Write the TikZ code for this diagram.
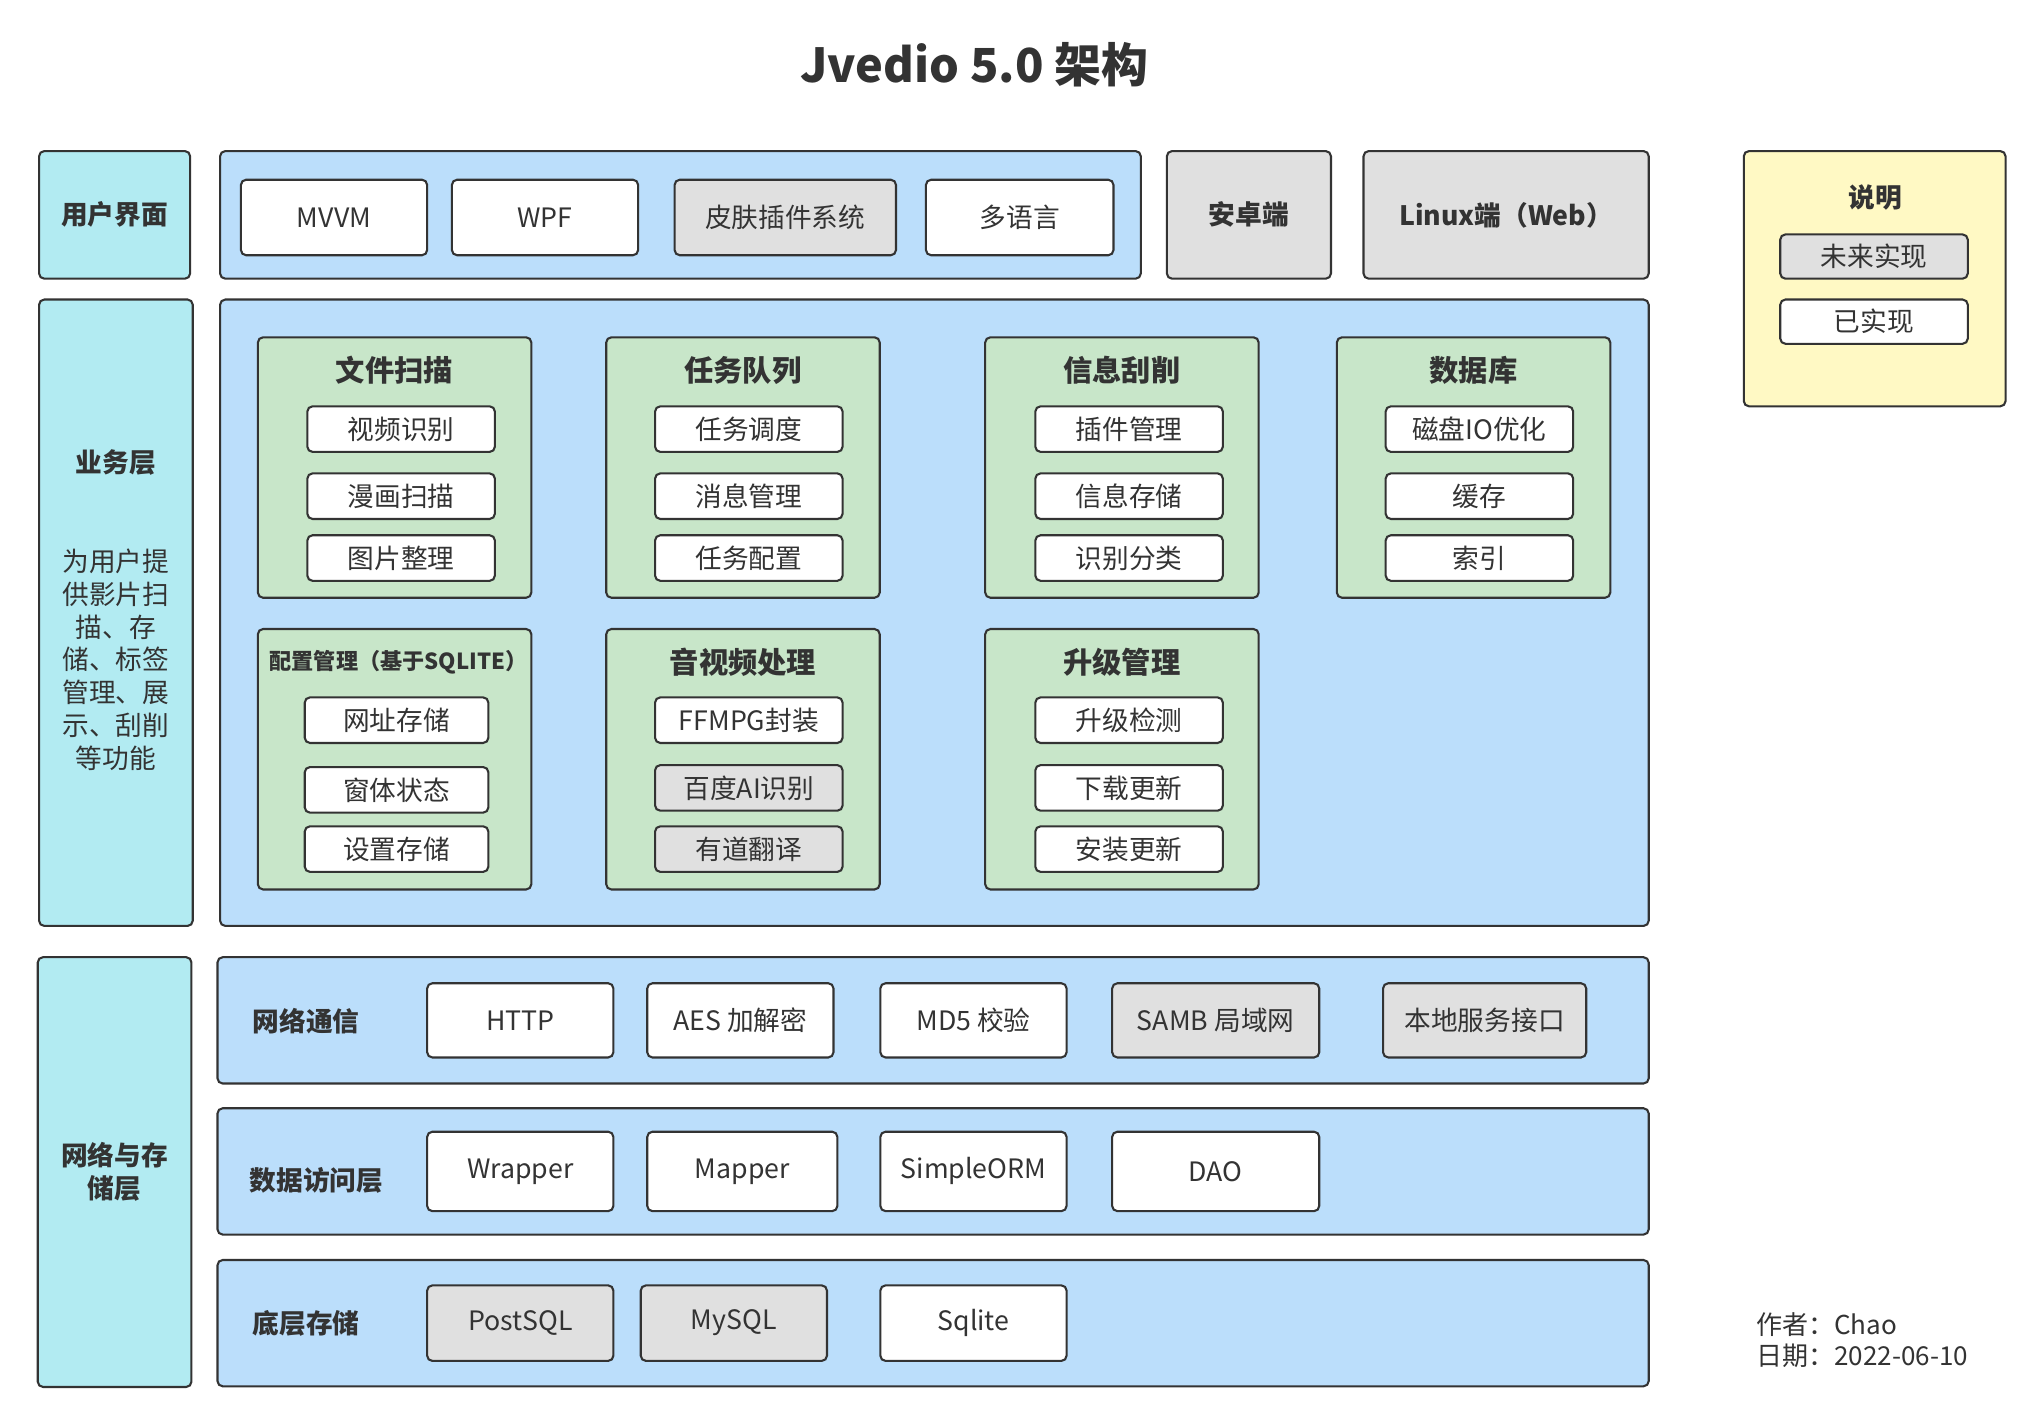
\documentclass[tikz,border=0pt]{standalone}
\usepackage{fontspec}
\setmainfont{Noto Sans CJK SC}
\usepackage{xcolor}
\usetikzlibrary{positioning}

\definecolor{linecol}{HTML}{333333}
\definecolor{cyanbg}{HTML}{B2EBF2}
\definecolor{bluebg}{HTML}{BBDEFB}
\definecolor{greenbg}{HTML}{C8E6C9}
\definecolor{graybg}{HTML}{E0E0E0}
\definecolor{notebg}{HTML}{FFF9C4}

\tikzset{
  base/.style={draw=linecol, line width=1.6pt, rounded corners=4pt, inner sep=0pt, text=linecol, align=center},
  side/.style={base, fill=cyanbg, font=\bfseries\fontsize{20.5}{25}\selectfont},
  panel/.style={base, fill=bluebg},
  group/.style={base, fill=greenbg},
  item/.style={base, fill=white, font=\fontsize{20.5}{25}\selectfont},
  todo/.style={item, fill=graybg},
  client/.style={base, fill=graybg, font=\bfseries\fontsize{20.5}{25}\selectfont},
  heading/.style={text=linecol, font=\bfseries\fontsize{22.5}{26}\selectfont},
  tag/.style={text=linecol, font=\bfseries\fontsize{20.5}{25}\selectfont}
}

\begin{document}
\begin{tikzpicture}[x=1pt, y=-1pt]
\useasboundingbox (0,0) rectangle (1568,1094.2);

% Title
\node[text=linecol, font=\bfseries\fontsize{36}{40}\selectfont] (title) at (748,50) {Jvedio 5.0 架构};

% User interface row
\node[side, minimum width=116, minimum height=98] (ui) at (88,165) {用户界面};
\node[panel, minimum width=707, minimum height=98] (uipanel) at (522.5,165) {};
\foreach \x/\w/\st/\t [count=\i] in {256.5/143/item/MVVM, 418.5/143/item/WPF, 603/170/todo/皮肤插件系统, 783/144/item/多语言} {
    \node[\st, minimum width=\w, minimum height=58] (ui-\i) at (\x,167) {\t};
}
\node[client, minimum width=126, minimum height=98] (android) at (959,165) {安卓端};
\node[client, minimum width=219, minimum height=98] (linux) at (1156.5,165) {Linux端（Web）};

% Legend
\node[base, fill=notebg, minimum width=201, minimum height=196] (legend) at (1439.5,214) {};
\node[tag] (legend-title) at (1440,152) {说明};
\node[todo, minimum width=144, minimum height=34] (future) at (1439,197) {未来实现};
\node[item, minimum width=144, minimum height=34] (done) at (1439,247) {已实现};

% Business layer
\node[side, minimum width=118, minimum height=481] (biz) at (89,470.5) {};
\node[tag] (biz-title) at (89,355) {业务层};
\node[text=linecol, font=\fontsize{20.5}{25.2}\selectfont, align=center] (biz-desc) at (89,506.5)
    {为用户提\\供影片扫\\描、存\\储、标签\\管理、展\\示、刮削\\等功能};
\node[panel, minimum width=1097, minimum height=481] (bizpanel) at (717.5,470.5) {};

% Module groups
\foreach \x/\y/\n/\t in {303/359/scan/文件扫描, 570.5/359/queue/任务队列, 861.5/359/scrape/信息刮削, 1131.5/359/db/数据库, 570.5/583/media/音视频处理, 861.5/583/upgrade/升级管理} {
    \node[group, minimum width=210, minimum height=200] (\n) at (\x,\y) {};
    \node[heading] (\n-title) at ([yshift=-26pt]\n.north) {\t};
}
\node[group, minimum width=210, minimum height=200] (conf) at (303,583) {};
\node[text=linecol, font=\bfseries\fontsize{17}{20}\selectfont] (conf-title) at ([xshift=3pt,yshift=-26pt]conf.north) {配置管理（基于SQLITE）};

% Module items
\foreach \x/\y/\w/\st/\t [count=\i] in {
    308/329.5/144/item/视频识别, 308/381/144/item/漫画扫描, 308/428.5/144/item/图片整理,
    575/329.5/144/item/任务调度, 575/381/144/item/消息管理, 575/428.5/144/item/任务配置,
    867/329.5/144/item/插件管理, 867/381/144/item/信息存储, 867/428.5/144/item/识别分类,
    1136/329.5/144/item/磁盘IO优化, 1136/381/144/item/缓存, 1136/428.5/144/item/索引,
    304.5/553/141/item/网址存储, 304.5/606.5/141/item/窗体状态, 304.5/652/141/item/设置存储,
    575/553/144/item/FFMPG封装, 575/605/144/todo/百度AI识别, 575/652/144/todo/有道翻译,
    867/553/144/item/升级检测, 867/605/144/item/下载更新, 867/652/144/item/安装更新} {
    \node[\st, minimum width=\w, minimum height=35] (mod-\i) at (\x,\y) {\t};
}

% Network and storage layer
\node[side, minimum width=118, minimum height=330] (store) at (88,900) {网络与存\\储层};
\node[panel, minimum width=1099, minimum height=97] (net) at (716.5,783.5) {};
\node[panel, minimum width=1099, minimum height=97] (dal) at (716.5,899.5) {};
\node[panel, minimum width=1099, minimum height=97] (disk) at (716.5,1016) {};
\node[tag] (net-title) at (235,784) {网络通信};
\node[tag] (dal-title) at (243,906) {数据访问层};
\node[tag] (disk-title) at (235,1016) {底层存储};

\foreach \x/\w/\st/\t [count=\i] in {399.5/143/item/HTTP, 568.5/143/item/AES 加解密, 747.5/143/item/MD5 校验, 933.5/159/todo/SAMB 局域网, 1140/156/todo/本地服务接口} {
    \node[\st, minimum width=\w, minimum height=57] (net-\i) at (\x,783.5) {\t};
}
\foreach \x/\w/\st/\t [count=\i] in {399.5/143/item/Wrapper, 570/146/item/Mapper, 747.5/143/item/SimpleORM, 933.5/159/item/DAO} {
    \node[\st, minimum width=\w, minimum height=61] (dal-\i) at (\x,899.5) {\t};
}
\foreach \x/\w/\st/\t [count=\i] in {399.5/143/todo/PostSQL, 563.5/143/todo/MySQL, 747.5/143/item/Sqlite} {
    \node[\st, minimum width=\w, minimum height=58] (disk-\i) at (\x,1016) {\t};
}

% Author
\node[anchor=west, align=left, text=linecol, font=\fontsize{20}{24}\selectfont] (author) at (1345,1029) {作者：Chao\\日期：2022-06-10};

\end{tikzpicture}
\end{document}
